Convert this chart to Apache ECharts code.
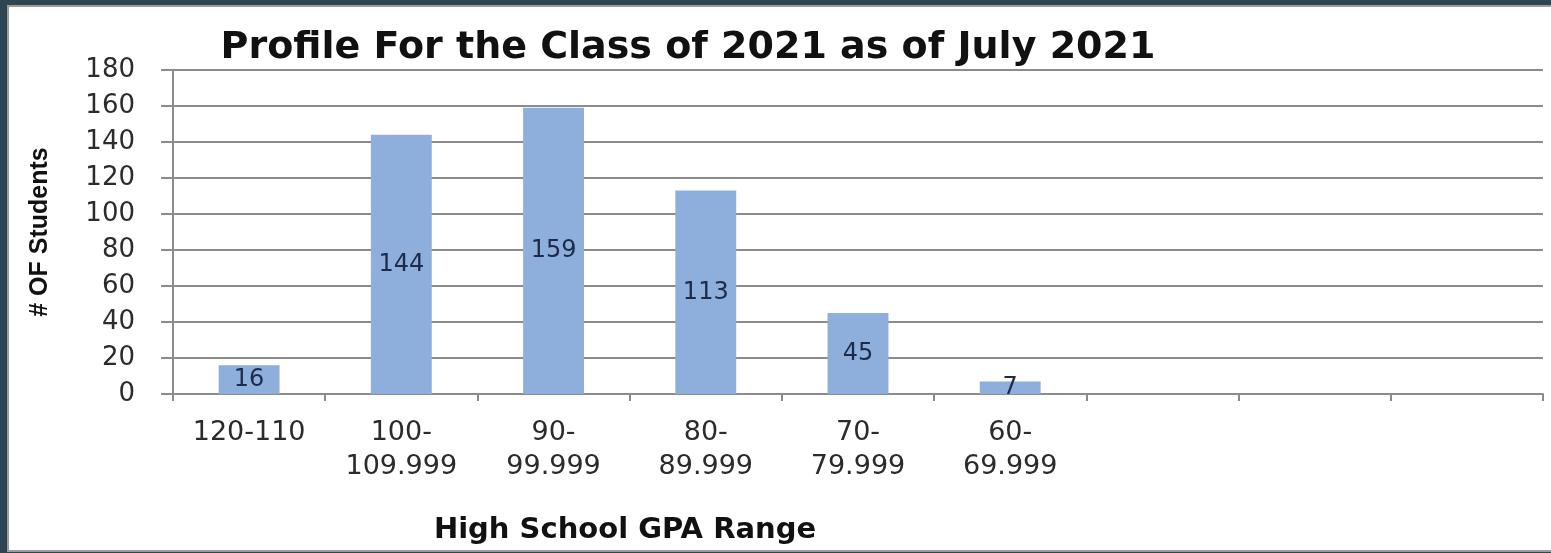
<!DOCTYPE html>
<html>
<head>
<meta charset="utf-8">
<script src="https://cdn.jsdelivr.net/npm/echarts@6/dist/echarts.min.js"></script>
<style>
  html, body { margin: 0; padding: 0; background: #2f4552; width: 1551px; height: 553px; overflow: hidden; }
  #panel { position: absolute; left: 7px; top: 5px; width: 1548px; height: 547px; box-sizing: border-box;
           border: 2px solid #9c9c9c; background: #ffffff; }
  #chart { position: absolute; left: 0; top: 0; width: 1544px; height: 543px; }
</style>
</head>
<body>
<div id="panel"><div id="chart"></div></div>
<script>
const titleText = 'Profile For the Class of 2021 as of July 2021';
const xAxisTitle = 'High School GPA Range';
const yAxisTitle = '# OF Students';
const categories = ['120-110', '100-\n109.999', '90-\n99.999', '80-\n89.999', '70-\n79.999', '60-\n69.999', '', '', ''];
const studentCounts = [16, 144, 159, 113, 45, 7];
const yMin = 0;
const yMax = 180;
const yStep = 20;

const chart = echarts.init(document.getElementById('chart'), null, { renderer: 'canvas' });
const gridColor = '#8c8c8c';
const textColor = '#2b2b2b';

chart.setOption({
  backgroundColor: 'transparent',
  animation: false,
  title: {
    text: titleText,
    left: 674,
    top: 17,
    textAlign: 'center',
    textStyle: { fontFamily: 'DejaVu Sans', fontWeight: 'bold', fontSize: 38, color: '#111111' }
  },
  grid: { left: 164, top: 63, width: 1370, height: 324, containLabel: false },
  xAxis: {
    type: 'category',
    data: categories,
    boundaryGap: true,
    name: xAxisTitle,
    nameLocation: 'middle',
    nameGap: 122,
    nameTextStyle: { fontFamily: 'DejaVu Sans', fontWeight: 'bold', fontSize: 29, color: '#111111', padding: [0, 466, 0, 0] },
    axisLine: { show: true, lineStyle: { color: gridColor, width: 2 } },
    axisTick: { show: true, length: 7, interval: 0, lineStyle: { color: gridColor, width: 2 } },
    axisLabel: { interval: 0, margin: 22, fontFamily: 'DejaVu Sans', fontSize: 27, lineHeight: 34, color: textColor, align: 'center' },
    splitLine: { show: false }
  },
  yAxis: {
    type: 'value',
    min: yMin,
    max: yMax,
    interval: yStep,
    name: yAxisTitle,
    nameLocation: 'middle',
    nameRotate: 90,
    nameGap: 120,
    nameTextStyle: { fontFamily: 'Liberation Sans', fontWeight: 'bold', fontSize: 25, color: '#111111' },
    axisLine: { show: true, lineStyle: { color: gridColor, width: 2 } },
    axisTick: { show: true, length: 12, inside: false, lineStyle: { color: gridColor, width: 2 } },
    axisLabel: { margin: 38, fontFamily: 'DejaVu Sans', fontSize: 26, color: textColor },
    splitLine: { show: true, lineStyle: { color: gridColor, width: 2 } }
  },
  series: [{
    type: 'bar',
    data: studentCounts,
    barWidth: '40%',
    itemStyle: { color: '#8eaedc' },
    label: {
      show: true,
      position: 'inside',
      fontFamily: 'DejaVu Sans',
      fontSize: 24,
      color: '#1c2b4a'
    }
  }]
});
</script>
</body>
</html>
